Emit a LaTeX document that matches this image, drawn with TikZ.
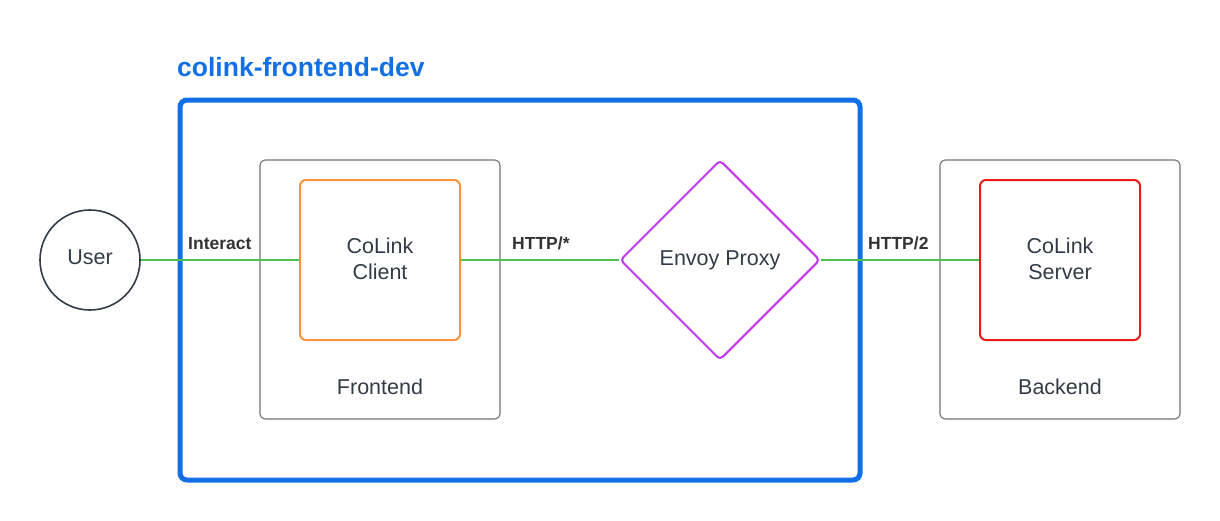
\documentclass[tikz,border=0pt]{standalone}
\usepackage{fontspec}
\setmainfont{Liberation Sans}
\usetikzlibrary{shapes.geometric}
\definecolor{cblue}{HTML}{1170E6}
\definecolor{cgreen}{HTML}{4CC254}
\definecolor{corange}{HTML}{FA9438}
\definecolor{cred}{HTML}{E81B1B}
\definecolor{cpurple}{HTML}{BE38F0}
\definecolor{cgray}{HTML}{6E737A}
\definecolor{ctext}{HTML}{343B45}
\definecolor{clabel}{HTML}{333333}
\tikzset{
  txt/.style={font=\fontsize{21.5}{26}\selectfont, text=ctext, align=center},
  lbl/.style={font=\fontsize{17.5}{21}\selectfont\bfseries, text=clabel, anchor=base west, inner sep=0},
  groupbox/.style={draw=cgray, line width=1.1pt, rounded corners=5pt, minimum width=240pt, minimum height=259pt, inner sep=0},
  compbox/.style={line width=2pt, rounded corners=6pt, minimum width=160pt, minimum height=160pt, inner sep=0, txt},
  conn/.style={draw=cgreen, line width=1.6pt},
}
\begin{document}
\begin{tikzpicture}[x=1pt, y=-1pt]
\useasboundingbox (0,0) rectangle (1220,520);
% title and container
\node[font=\fontsize{26.5}{30}\selectfont\bfseries, text=cblue, anchor=west, inner sep=0] (title) at (177,67) {colink-frontend-dev};
\node[draw=cblue, line width=5pt, rounded corners=7pt, minimum width=680pt, minimum height=380pt, inner sep=0] (dev) at (520,290) {};
% group boxes
\node[groupbox] (frontend) at (380,289.5) {};
\node[txt, inner sep=0] (frontendlbl) at (380,387) {Frontend};
\node[groupbox] (backend) at (1060,289.5) {};
\node[txt, inner sep=0] (backendlbl) at (1060,387) {Backend};
% components
\node[circle, draw=ctext, line width=1.6pt, minimum size=100pt, inner sep=0, txt, text depth=6pt] (user) at (90,260) {User};
\node[compbox, draw=corange] (client) at (380,260) {\raisebox{2pt}{CoLink}\\\raisebox{2pt}{Client}};
\node[diamond, draw=cpurple, line width=2pt, minimum width=200pt, minimum height=200pt, aspect=1, inner sep=0, rounded corners=4pt, txt] (envoy) at (720,260) {Envoy Proxy};
\node[compbox, draw=cred] (server) at (1060,260) {\raisebox{2pt}{CoLink}\\\raisebox{2pt}{Server}};
% connectors
\draw[conn] (user.east) -- (client.west);
\draw[conn] (client.east) -- (envoy.west);
\draw[conn] (envoy.east) -- (server.west);
% labels
\node[lbl] (l1) at (188,249) {Interact};
\node[lbl] (l2) at (512,249) {HTTP/*};
\node[lbl] (l3) at (868,249) {HTTP/2};
\end{tikzpicture}
\end{document}
